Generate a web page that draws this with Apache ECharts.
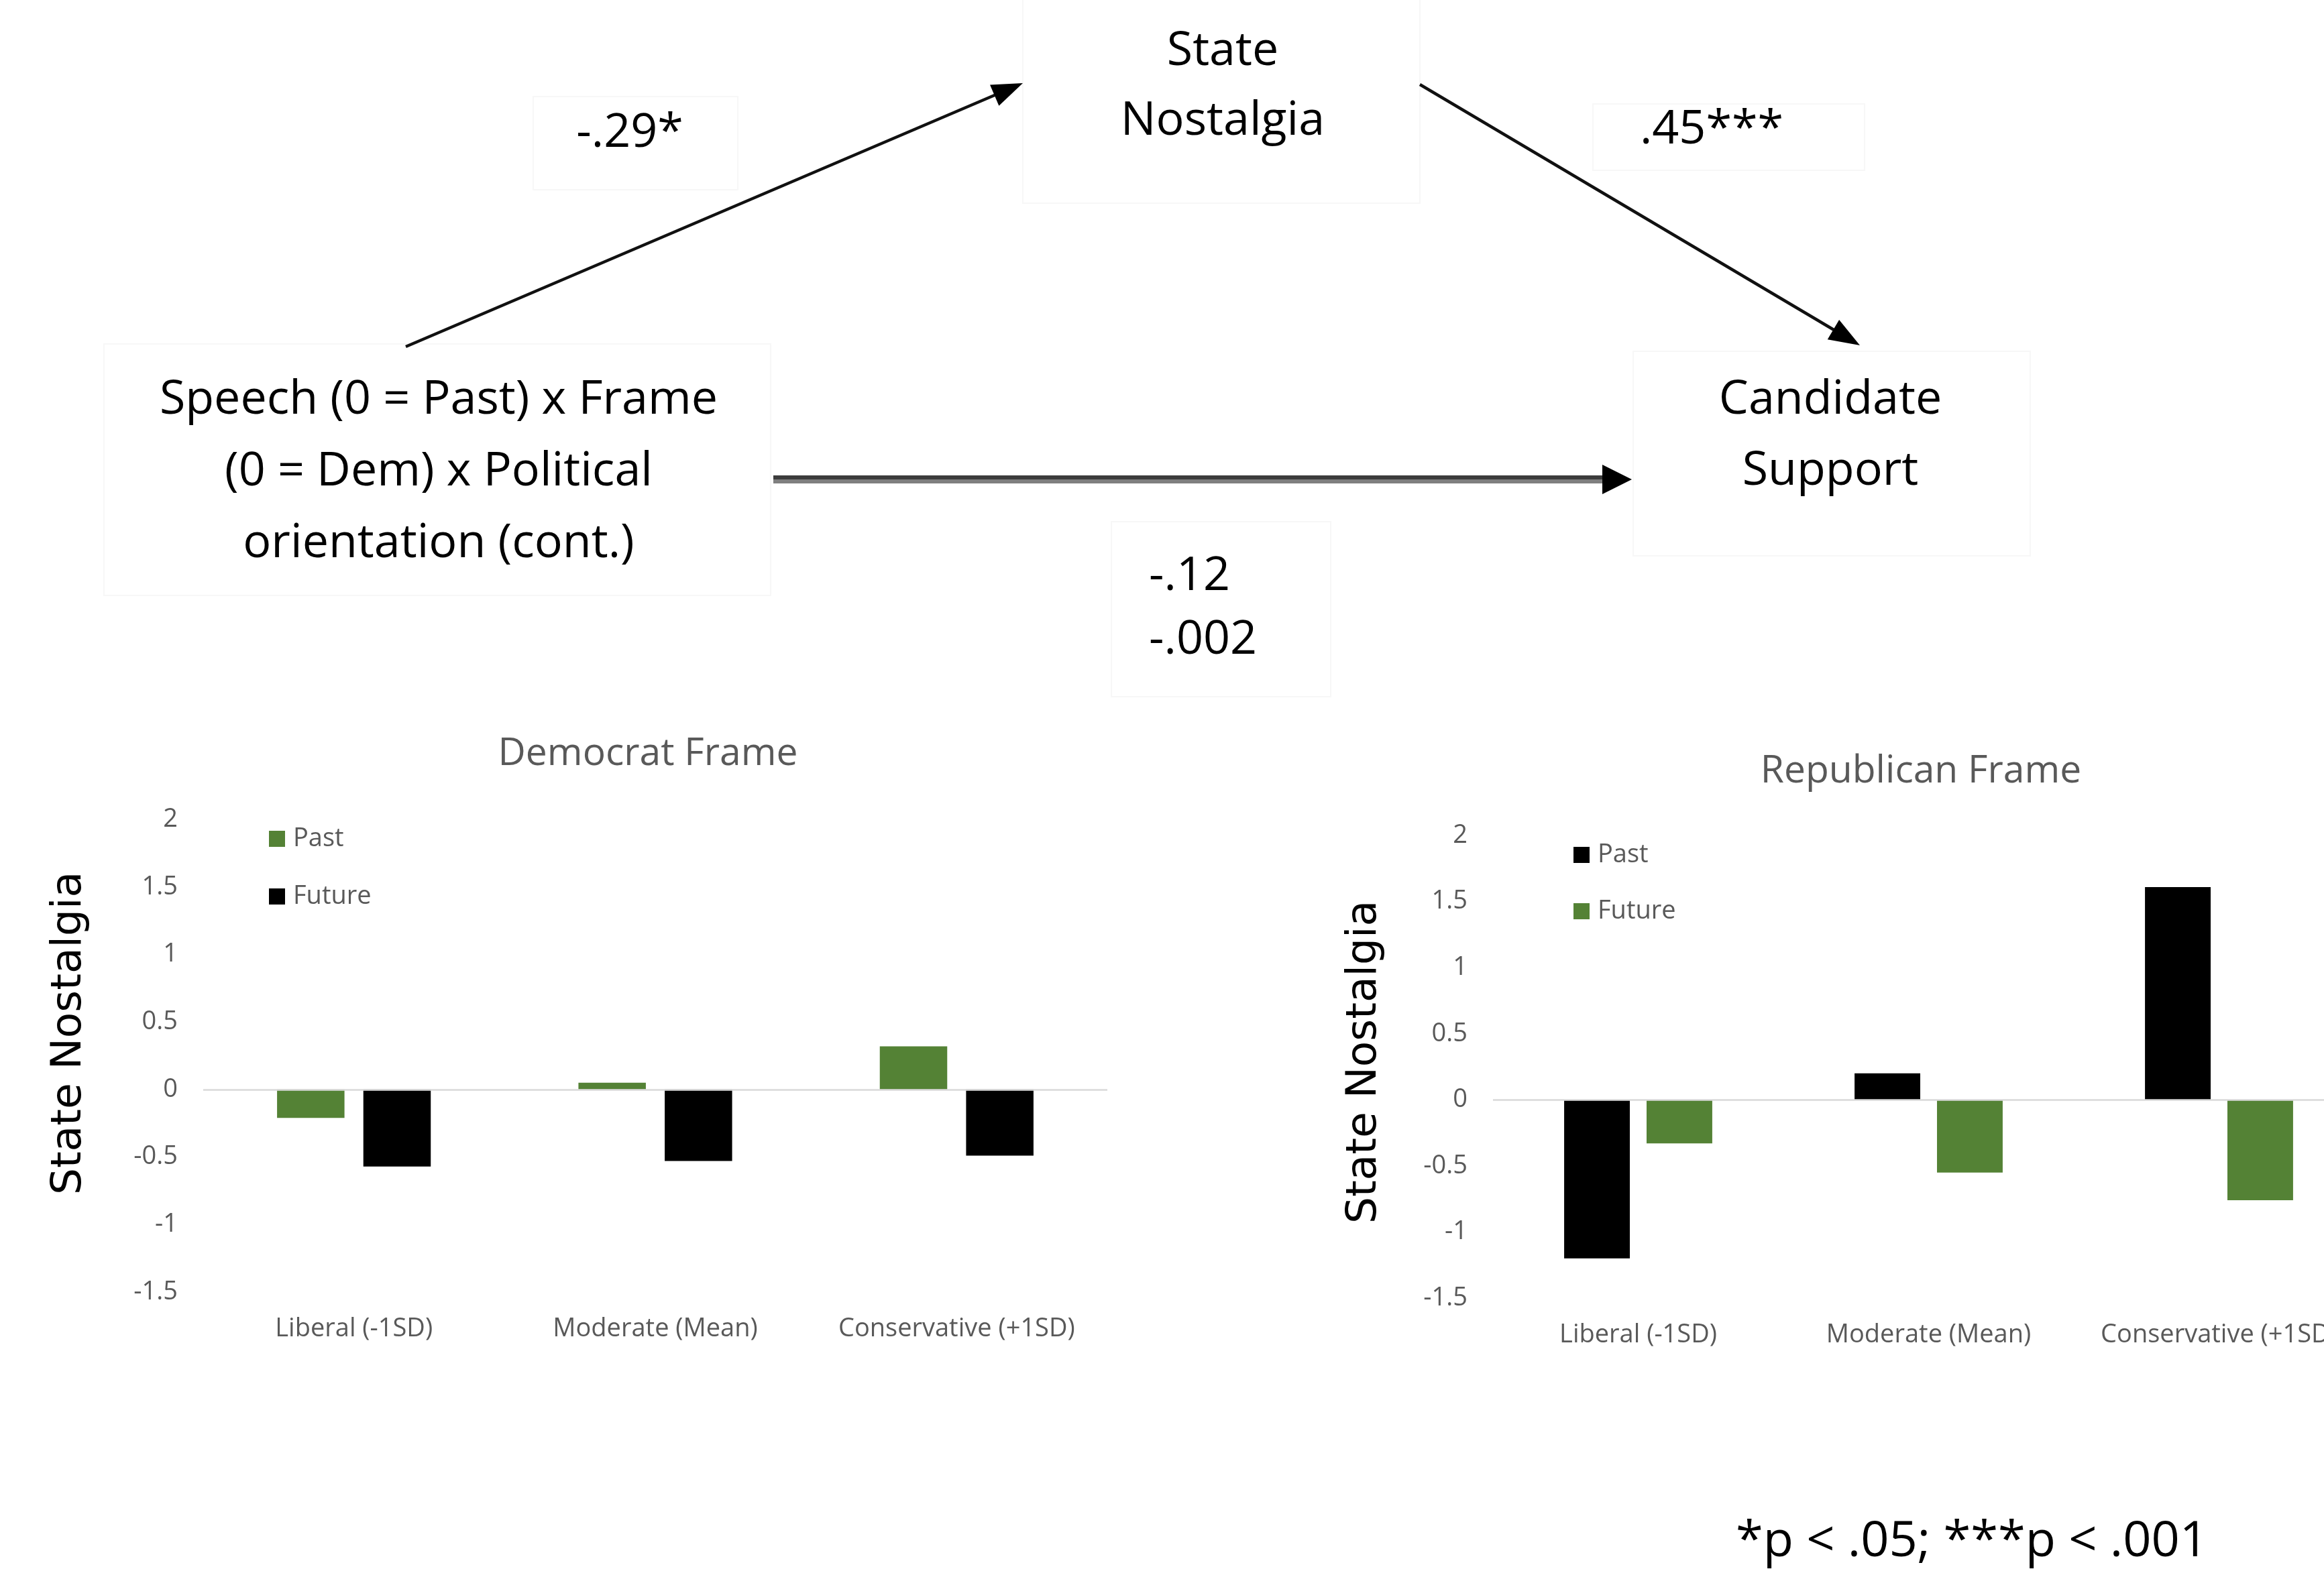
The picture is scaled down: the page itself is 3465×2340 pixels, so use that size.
<!DOCTYPE html>
<html>
<head>
<meta charset="utf-8">
<script src="https://cdn.jsdelivr.net/npm/echarts@6/dist/echarts.min.js"></script>
<style>
  html, body { margin: 0; padding: 0; background: #fff; }
  #chart { width: 3465px; height: 2340px; }
</style>
</head>
<body>
<div id="chart"></div>
<script>
// data
const categories = ['Liberal (-1SD)', 'Moderate (Mean)', 'Conservative (+1SD)'];
const demPast = [-0.21, 0.05, 0.32];
const demFuture = [-0.57, -0.53, -0.49];
const repPast = [-1.2, 0.2, 1.61];
const repFuture = [-0.33, -0.55, -0.76];
const yMin = -1.5, yMax = 2, yStep = 0.5;
const chartTitles = ['Democrat Frame', 'Republican Frame'];
const yName = 'State Nostalgia';
const nodeLabels = ['State\nNostalgia', 'Speech (0 = Past) x Frame\n(0 = Dem) x Political\norientation (cont.)', 'Candidate\nSupport'];
const pathLabels = ['-.29*', '.45***', '-.12\n-.002'];
const footnote = '*p < .05; ***p < .001';

const GREEN = '#548235', BLACK = '#000000', GREY = '#595959', BOX = '#f7f7f7';
const FONT = '"Open Sans", "Noto Sans", sans-serif';

function text(str, x, y, size, extra) {
  return Object.assign({
    type: 'text', x: x, y: y,
    style: Object.assign({
      text: str, fontSize: size, fontFamily: FONT, fill: BLACK,
      textAlign: 'center', textVerticalAlign: 'middle'
    }, (extra && extra.style) || {})
  }, extra && extra.rotation ? { rotation: extra.rotation } : {});
}

function box(x, y, w, h) {
  return { type: 'rect', shape: { x: x, y: y, width: w, height: h }, style: { fill: 'none', stroke: BOX, lineWidth: 2 } };
}

function arrow(x1, y1, x2, y2, len, half, width) {
  const dx = x2 - x1, dy = y2 - y1, d = Math.hypot(dx, dy), ux = dx / d, uy = dy / d;
  const bx = x2 - ux * len, by = y2 - uy * len;
  return [
    { type: 'line', shape: { x1: x1, y1: y1, x2: bx + ux * 2, y2: by + uy * 2 }, style: { stroke: '#111', lineWidth: width } },
    { type: 'polygon', shape: { points: [[x2, y2], [bx - uy * half, by + ux * half], [bx + uy * half, by - ux * half]] }, style: { fill: BLACK } }
  ];
}

const elements = [
  box(1525, -2, 592, 305),
  box(795, 144, 305, 139),
  box(2375, 155, 405, 99),
  box(155, 513, 994, 375),
  box(2435, 524, 592, 305),
  box(1657, 778, 327, 261),
  ...arrow(605, 517, 1525, 124, 46, 17, 4.5),
  ...arrow(2117, 126, 2773, 515, 46, 17, 4.5),
  { type: 'line', shape: { x1: 1153, y1: 712, x2: 2392, y2: 712 }, style: { stroke: '#3c3c3c', lineWidth: 6 } },
  { type: 'line', shape: { x1: 1153, y1: 718, x2: 2392, y2: 718 }, style: { stroke: '#7f7f7f', lineWidth: 6 } },
  { type: 'polygon', shape: { points: [[2433, 715], [2389, 693], [2389, 737]] }, style: { fill: BLACK } },
  text(nodeLabels[0], 1823, 129, 70, { style: { lineHeight: 104 } }),
  text(nodeLabels[1], 654, 704, 70, { style: { lineHeight: 107 } }),
  text(nodeLabels[2], 2729, 650, 70, { style: { lineHeight: 106 } }),
  text(pathLabels[0], 939, 199, 70),
  text(pathLabels[1], 2552, 194, 70),
  text(pathLabels[2], 1713, 908, 70, { style: { textAlign: 'left', lineHeight: 95 } }),
  text(chartTitles[0], 966, 1125, 57, { style: { fill: GREY } }),
  text(chartTitles[1], 2864, 1151, 57, { style: { fill: GREY } }),
  text(yName, 104, 1541, 63, { rotation: Math.PI / 2, style: { fontFamily: '"DejaVu Sans", Verdana, sans-serif' } }),
  text(yName, 2035, 1584, 63, { rotation: Math.PI / 2, style: { fontFamily: '"DejaVu Sans", Verdana, sans-serif' } }),
  text(footnote, 2940, 2300, 74)
];

const zeroLine = {
  silent: true, symbol: ['none', 'none'],
  label: { show: false },
  lineStyle: { color: '#d9d9d9', type: 'solid', width: 2.5 },
  data: [{ yAxis: 0 }]
};

function xAxis(i) {
  return {
    type: 'category', gridIndex: i, data: categories,
    axisLine: { show: false, onZero: false }, axisTick: { show: false }, splitLine: { show: false },
    axisLabel: { interval: 0, margin: 36, color: GREY, fontSize: 38, fontFamily: FONT }
  };
}
function yAxis(i) {
  return {
    type: 'value', gridIndex: i, min: yMin, max: yMax, interval: yStep,
    axisLine: { show: false }, axisTick: { show: false }, splitLine: { show: false },
    axisLabel: { margin: 38, color: GREY, fontSize: 38, fontFamily: FONT }
  };
}
function legend(left, top, gap, colors) {
  return {
    orient: 'vertical', left: left, top: top, padding: 0, selectedMode: false,
    itemWidth: 24, itemHeight: 24, itemGap: gap, icon: 'rect',
    textStyle: { color: GREY, fontSize: 38, fontFamily: FONT, lineHeight: 38, padding: [0, 0, 0, 7] },
    data: [{ name: 'Past', itemStyle: { color: colors[0] } }, { name: 'Future', itemStyle: { color: colors[1] } }]
  };
}

const chart = echarts.init(document.getElementById('chart'));
chart.setOption({
  animation: false,
  backgroundColor: '#ffffff',
  grid: [
    { left: 303, top: 1222, width: 1348, height: 705, outerBoundsMode: 'none' },
    { left: 2226, top: 1246, width: 1299, height: 690, outerBoundsMode: 'none' }
  ],
  xAxis: [xAxis(0), xAxis(1)],
  yAxis: [yAxis(0), yAxis(1)],
  legend: [legend(401, 1232, 48, [GREEN, BLACK]), legend(2346, 1256, 46, [BLACK, GREEN])],
  series: [
    { name: 'Past', type: 'bar', xAxisIndex: 0, yAxisIndex: 0, data: demPast, itemStyle: { color: GREEN }, barGap: '28%', barCategoryGap: '49%', markLine: zeroLine },
    { name: 'Future', type: 'bar', xAxisIndex: 0, yAxisIndex: 0, data: demFuture, itemStyle: { color: BLACK }, barGap: '28%', barCategoryGap: '49%' },
    { name: 'Past', type: 'bar', xAxisIndex: 1, yAxisIndex: 1, data: repPast, itemStyle: { color: BLACK }, barGap: '25.5%', barCategoryGap: '49%', markLine: zeroLine },
    { name: 'Future', type: 'bar', xAxisIndex: 1, yAxisIndex: 1, data: repFuture, itemStyle: { color: GREEN }, barGap: '25.5%', barCategoryGap: '49%' }
  ],
  graphic: { elements: elements }
});
</script>
</body>
</html>
